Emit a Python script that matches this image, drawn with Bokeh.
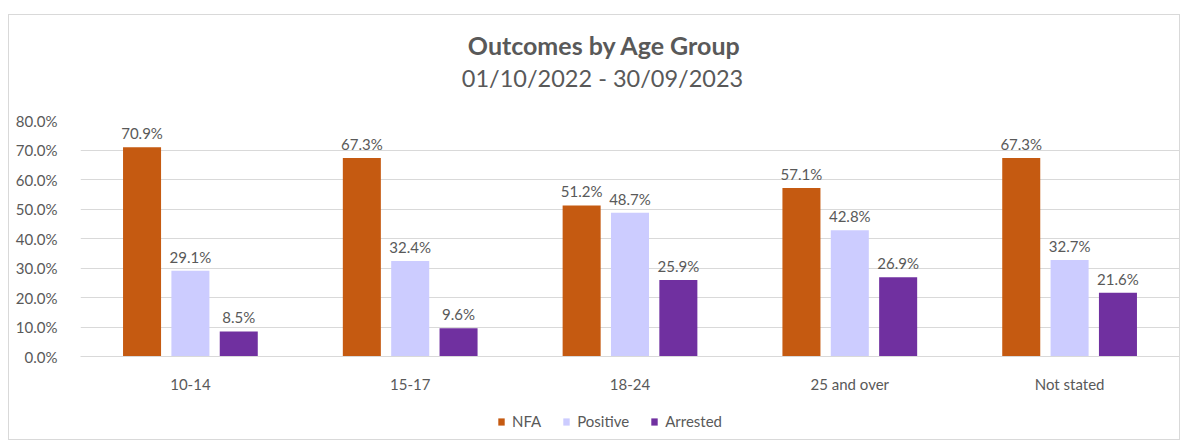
from bokeh.plotting import figure
from bokeh.layouts import column
from bokeh.models import (ColumnDataSource, FactorRange, Legend, LegendItem, Label,
                          PrintfTickFormatter, FixedTicker)
from bokeh.transform import dodge
from bokeh.core.properties import value
from bokeh.embed import file_html
from bokeh.resources import INLINE

categories = ["10-14", "15-17", "18-24", "25 and over", "Not stated"]
nfa = [70.9, 67.3, 51.2, 57.1, 67.3]
positive = [29.1, 32.4, 48.7, 42.8, 32.7]
arrested = [8.5, 9.6, 25.9, 26.9, 21.6]
series_names = ["NFA", "Positive", "Arrested"]
y_ticks = [0, 10, 20, 30, 40, 50, 60, 70, 80]
title_text = "Outcomes by Age Group"
subtitle_text = "01/10/2022 - 30/09/2023"

colors = ["#C55A11", "#CCCCFF", "#7030A0"]
FONT = "Lato"
TXT = "#595959"
W = 1170


def bare(height):
    f = figure(width=W, height=height, x_range=(0, 1), y_range=(0, 1),
               output_backend="svg", toolbar_location=None,
               x_axis_location=None, y_axis_location=None,
               min_border_left=0, min_border_right=0, min_border_top=0, min_border_bottom=0)
    f.grid.visible = False
    f.outline_line_color = None
    return f


# ---- title block ----
tp = bare(85)
tp.add_layout(Label(x=524, y=56, x_units="screen", y_units="screen", text=title_text,
                    text_align="center", text_baseline="alphabetic", text_font=FONT,
                    text_font_size="25px", text_font_style="bold", text_color=TXT))
tp.add_layout(Label(x=522, y=23, x_units="screen", y_units="screen", text=subtitle_text,
                    text_align="center", text_baseline="alphabetic", text_font=FONT,
                    text_font_size="23.5px", text_font_style="normal", text_color=TXT))

# ---- main chart ----
src = ColumnDataSource(dict(
    cat=categories, NFA=nfa, Positive=positive, Arrested=arrested,
    NFA_l=[f"{v:.1f}%" for v in nfa],
    Positive_l=[f"{v:.1f}%" for v in positive],
    Arrested_l=[f"{v:.1f}%" for v in arrested],
))

p = figure(x_range=FactorRange(*categories, range_padding=0), y_range=(0, 80),
           width=W, height=295, output_backend="svg", toolbar_location=None,
           min_border_left=71, min_border_right=0, min_border_top=20, min_border_bottom=35)

offsets = [-0.22, 0.0, 0.22]
for name, col, off in zip(series_names, colors, offsets):
    p.vbar(x=dodge("cat", off, range=p.x_range), top=name, width=0.173, bottom=0,
           source=src, fill_color=col, line_color=None)
    p.text(x=dodge("cat", off, range=p.x_range), y=name, text=name + "_l", source=src,
           text_align="center", text_baseline="alphabetic", y_offset=-14,
           text_font=value(FONT), text_font_size="15px", text_color=TXT)

p.yaxis.ticker = FixedTicker(ticks=y_ticks)
p.yaxis.formatter = PrintfTickFormatter(format="%.1f%%")
p.yaxis.axis_line_color = None
p.yaxis.major_tick_line_color = None
p.yaxis.minor_tick_line_color = None
p.yaxis.major_label_standoff = 17
p.yaxis.major_label_text_font = FONT
p.yaxis.major_label_text_font_size = "15px"
p.yaxis.major_label_text_color = TXT

p.xaxis.axis_line_color = "#d9d9d9"
p.xaxis.major_tick_line_color = None
p.xaxis.minor_tick_line_color = None
p.xaxis.major_label_standoff = 12
p.xaxis.major_label_text_font = FONT
p.xaxis.major_label_text_font_size = "15px"
p.xaxis.major_label_text_color = TXT

p.xgrid.grid_line_color = None
p.ygrid.grid_line_color = "#d9d9d9"
p.outline_line_color = None

# ---- legend block (zero-size swatch renderers, only used for the legend) ----
lp = bare(44)
items = []
for name, col in zip(series_names, colors):
    r = lp.vbar(x=[0.5], top=[0], bottom=0, width=0, fill_color=col, line_color=None)
    items.append(LegendItem(label=name, renderers=[r]))
legend = Legend(items=items, orientation="horizontal", location=(417, 9),
                border_line_color=None, background_fill_alpha=0,
                glyph_width=8, glyph_height=9, label_standoff=7, spacing=21,
                label_text_font=FONT, label_text_font_size="15px", label_text_color=TXT,
                margin=0, padding=0)
lp.add_layout(legend, "center")

layout = column(tp, p, lp, spacing=0,
                styles={"border": "1px solid #d9d9d9", "margin-left": "8px", "margin-top": "14px"})

open("out.html", "w").write(file_html(layout, INLINE))
